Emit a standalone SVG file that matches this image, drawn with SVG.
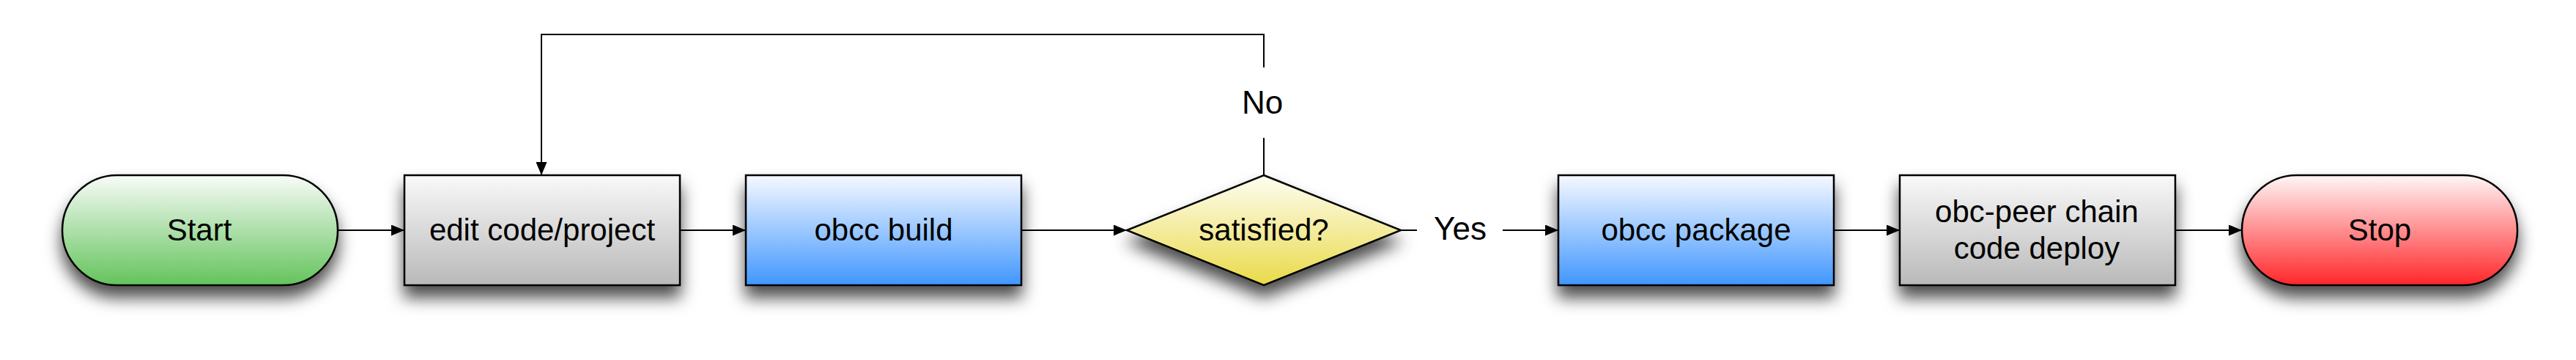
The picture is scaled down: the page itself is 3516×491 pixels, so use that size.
<svg xmlns="http://www.w3.org/2000/svg" width="3516" height="491" viewBox="0 0 3516 491">
<defs>
<linearGradient id="gGreen" x1="0" y1="0" x2="0" y2="1"><stop offset="0" stop-color="#f8fcf8"/><stop offset="1" stop-color="#63c35b"/></linearGradient>
<linearGradient id="gGray" x1="0" y1="0" x2="0" y2="1"><stop offset="0" stop-color="#f9f9f9"/><stop offset="1" stop-color="#b9b9b9"/></linearGradient>
<linearGradient id="gBlue" x1="0" y1="0" x2="0" y2="1"><stop offset="0" stop-color="#f6f9ff"/><stop offset="1" stop-color="#4096ff"/></linearGradient>
<linearGradient id="gYellow" x1="0" y1="0" x2="0" y2="1"><stop offset="0" stop-color="#fefdf2"/><stop offset="1" stop-color="#e9da48"/></linearGradient>
<linearGradient id="gRed" x1="0" y1="0" x2="0" y2="1"><stop offset="0" stop-color="#fff6f6"/><stop offset="1" stop-color="#ff2629"/></linearGradient>
<filter id="shadow" x="-20%" y="-30%" width="140%" height="180%">
<feDropShadow dx="0" dy="16" stdDeviation="11" flood-color="#000" flood-opacity="0.7"/>
</filter>
<marker id="arrow" markerUnits="userSpaceOnUse" markerWidth="18" markerHeight="15" refX="18" refY="7.5" orient="auto">
<path d="M0,0 L18,7.5 L0,15 z" fill="#000"/>
</marker>
</defs>
<style>
.node { stroke:#000; stroke-width:2.5; filter:url(#shadow); }
.label { font-family:"Liberation Sans", Arial, Helvetica, sans-serif; font-size:42px; fill:#000; text-anchor:middle; }
.elabel { font-family:"Liberation Sans", Arial, Helvetica, sans-serif; font-size:44px; fill:#000; text-anchor:middle; }
.conn { stroke:#000; stroke-width:2; fill:none; }
</style>
<g id="connectors">
<path class="conn" d="M461,314 L552,314" marker-end="url(#arrow)"/>
<path class="conn" d="M928,314 L1018,314" marker-end="url(#arrow)"/>
<path class="conn" d="M1394,314 L1538,314" marker-end="url(#arrow)"/>
<path class="conn" d="M1725,239 L1725,188"/>
<path class="conn" d="M1725,92 L1725,47 L739,47 L739,239" marker-end="url(#arrow)"/>
<path class="conn" d="M1912,314 L1934,314"/>
<path class="conn" d="M2051,314 L2127,314" marker-end="url(#arrow)"/>
<path class="conn" d="M2503,314 L2593,314" marker-end="url(#arrow)"/>
<path class="conn" d="M2969,314 L3060,314" marker-end="url(#arrow)"/>
<text class="elabel" x="1723" y="155">No</text>
<text class="elabel" x="1993" y="327">Yes</text>
</g>
<g id="start">
<rect class="node" x="85" y="239" width="376" height="150" rx="75" ry="75" fill="url(#gGreen)"/>
<text class="label" x="272" y="328">Start</text>
</g>
<g id="edit">
<rect class="node" x="552" y="239" width="376" height="150" fill="url(#gGray)"/>
<text class="label" x="740" y="328">edit code/project</text>
</g>
<g id="build">
<rect class="node" x="1018" y="239" width="376" height="150" fill="url(#gBlue)"/>
<text class="label" x="1206" y="328">obcc build</text>
</g>
<g id="satisfied">
<polygon class="node" points="1725,239 1912,314 1725,389 1538,314" fill="url(#gYellow)"/>
<text class="label" x="1725" y="328">satisfied?</text>
</g>
<g id="package">
<rect class="node" x="2127" y="239" width="376" height="150" fill="url(#gBlue)"/>
<text class="label" x="2315" y="328">obcc package</text>
</g>
<g id="deploy">
<rect class="node" x="2593" y="239" width="376" height="150" fill="url(#gGray)"/>
<text class="label" x="2780" y="303">obc-peer chain</text>
<text class="label" x="2780" y="353">code deploy</text>
</g>
<g id="stop">
<rect class="node" x="3060" y="239" width="376" height="150" rx="75" ry="75" fill="url(#gRed)"/>
<text class="label" x="3248" y="328">Stop</text>
</g>
</svg>
